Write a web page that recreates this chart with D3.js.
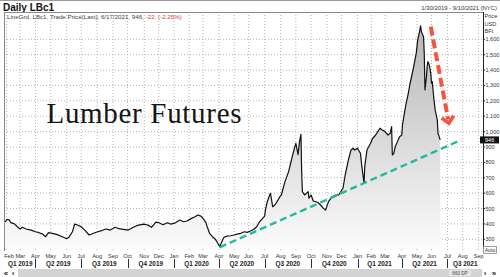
<!DOCTYPE html>
<html>
<head>
<meta charset="utf-8">
<script src="https://cdn.jsdelivr.net/npm/d3@7"></script>
<style>
  body { margin: 0; background: #fff; }
  svg { display: block; font-family: Arial, "Liberation Sans", sans-serif; }
</style>
</head>
<body>
<div id="chart"></div>
<script>
// lumber futures (LBc1) daily close
const priceDates = [
  "2019-01-30","2019-02-04","2019-02-07","2019-02-11","2019-02-19","2019-02-25","2019-03-01","2019-03-06",
  "2019-03-13","2019-03-22","2019-04-01","2019-04-08","2019-04-15","2019-04-22","2019-04-26","2019-05-03",
  "2019-05-13","2019-05-23","2019-06-03","2019-06-06","2019-06-13","2019-06-18","2019-06-24","2019-07-01",
  "2019-07-09","2019-07-17","2019-07-25","2019-08-02","2019-08-09","2019-08-19","2019-08-27","2019-09-06",
  "2019-09-13","2019-09-23","2019-10-02","2019-10-11","2019-10-21","2019-10-31","2019-11-08","2019-11-15",
  "2019-11-25","2019-12-02","2019-12-10","2019-12-18","2019-12-24","2020-01-02","2020-01-06","2020-01-14",
  "2020-01-22","2020-01-29","2020-02-06","2020-02-13","2020-02-20","2020-02-26","2020-03-02","2020-03-06",
  "2020-03-10","2020-03-13","2020-03-19","2020-03-25","2020-03-30","2020-04-02","2020-04-06","2020-04-09",
  "2020-04-13","2020-04-17","2020-04-24","2020-05-01","2020-05-07","2020-05-14","2020-05-21","2020-05-28",
  "2020-06-04","2020-06-10","2020-06-16","2020-06-22","2020-06-25","2020-07-01","2020-07-02","2020-07-07",
  "2020-07-10","2020-07-14","2020-07-17","2020-07-22","2020-07-27","2020-07-31","2020-08-04","2020-08-11",
  "2020-08-18","2020-08-25","2020-08-28","2020-09-01","2020-09-04","2020-09-09","2020-09-11","2020-09-14",
  "2020-09-15","2020-09-18","2020-09-25","2020-09-28","2020-10-01","2020-10-06","2020-10-14","2020-10-20",
  "2020-10-26","2020-10-29","2020-11-04","2020-11-11","2020-11-18","2020-11-24","2020-12-03","2020-12-08",
  "2020-12-15","2020-12-18","2020-12-23","2020-12-28","2021-01-04","2021-01-08","2021-01-12","2021-01-15",
  "2021-01-19","2021-01-22","2021-01-29","2021-02-03","2021-02-09","2021-02-12","2021-02-18","2021-02-23",
  "2021-03-01","2021-03-05","2021-03-10","2021-03-12","2021-03-15","2021-03-17","2021-03-19","2021-03-24",
  "2021-03-29","2021-04-01","2021-04-05","2021-04-08","2021-04-12","2021-04-15","2021-04-19","2021-04-22",
  "2021-04-26","2021-04-30","2021-05-04","2021-05-06","2021-05-10","2021-05-11","2021-05-14","2021-05-17",
  "2021-05-18","2021-05-20","2021-05-21","2021-05-24","2021-05-26","2021-05-28","2021-06-01","2021-06-02",
  "2021-06-04","2021-06-08","2021-06-11","2021-06-14","2021-06-17"
];
const priceValues = [
  414,430,425,408,400,382,367,378,
  367,360,349,343,334,317,343,339,
  332,317,304,313,349,399,393,382,
  360,328,339,349,356,367,360,378,
  369,365,360,378,391,399,393,378,
  412,408,395,408,399,403,408,425,
  414,419,436,447,458,451,436,408,
  378,339,317,300,278,252,274,306,
  313,321,323,328,334,339,349,345,
  356,365,382,414,430,451,490,534,
  577,599,512,523,545,577,588,675,
  740,837,892,924,850,935,982,740,
  610,588,610,567,588,549,541,523,
  501,490,545,577,588,588,632,718,
  827,880,892,880,892,859,772,664,
  772,880,924,957,978,1000,1022,1011,
  1000,978,989,1032,848,859,902,935,
  967,978,1043,1130,1184,1249,1303,1368,
  1412,1510,1596,1639,1687,1650,1617,1510,
  1271,1357,1423,1455,1433,1379,1315,1325,
  1227,1141,1076,989,946
];

// exchange holidays, the x axis runs on trading days (660 DP)
const holidays = [
  "2019-02-18","2019-04-19","2019-05-27","2019-07-04","2019-09-02","2019-11-28","2019-12-25",
  "2020-01-01","2020-01-20","2020-02-17","2020-04-10","2020-05-25","2020-07-03","2020-09-07","2020-11-26","2020-12-25",
  "2021-01-01","2021-01-18","2021-02-15","2021-04-02","2021-05-31","2021-07-05","2021-09-06"
];

const yTicks = [300,400,500,600,700,800,900,1000,1100,1200,1300,1400,1500,1600];
const quarterLabels = ["Q1 2019","Q2 2019","Q3 2019","Q4 2019","Q1 2020","Q2 2020","Q3 2020","Q4 2020","Q1 2021","Q2 2021","Q3 2021"];

// annotations: teal support line and red down arrow
const trendDates = ["2020-04-02", "2021-07-29"];
const trendValues = [248, 946];
const arrowDates = ["2021-05-28", "2021-07-06"];
const arrowValues = [1682, 1054];

let width = 500;
let height = 277;
let plot = {left: 4, right: 483, top: 12, bottom: 249};

let parse = d3.timeParse("%Y-%m-%d");
let fmt = d3.timeFormat("%Y-%m-%d");
let start = parse("2019-01-30");
let end = parse("2021-09-10");
let holSet = new Set(holidays);

let tradingDays = d3.timeDay.range(start, d3.timeDay.offset(end, 1))
  .filter(d => d.getDay() !== 0 && d.getDay() !== 6 && !holSet.has(fmt(d)));

let xIdx = d3.scaleLinear()
  .domain([0, tradingDays.length - 1])
  .range([plot.left + 1, plot.right]);
let x = d => xIdx(Math.min(d3.bisectLeft(tradingDays, d), tradingDays.length - 1));

let y = d3.scaleLinear()
  .domain([237, 1771])
  .range([plot.bottom, plot.top + 1]);

let data = priceDates.map((d, i) => ({date: parse(d), value: priceValues[i]}));

let svg = d3.select("#chart")
  .append("svg")
  .attr("width", width)
  .attr("height", height);

let defs = svg.append("defs");
let grad = defs.append("linearGradient")
  .attr("id", "fillGrad")
  .attr("gradientUnits", "userSpaceOnUse")
  .attr("x1", 0).attr("x2", 0)
  .attr("y1", plot.top).attr("y2", plot.bottom);
grad.append("stop").attr("offset", "0%").attr("stop-color", "#b2b2b2");
grad.append("stop").attr("offset", "100%").attr("stop-color", "#fbfbfb");

// header
svg.append("line")
  .attr("x1", 0).attr("x2", width).attr("y1", 0.5).attr("y2", 0.5)
  .attr("stroke", "#9a9a9a");
svg.append("text")
  .attr("x", 3).attr("y", 10.5)
  .attr("font-size", 10).attr("font-weight", "bold").attr("fill", "#111")
  .text("Daily LBc1");
svg.append("text")
  .attr("x", 497).attr("y", 9.5)
  .attr("text-anchor", "end")
  .attr("font-size", 5.9).attr("fill", "#333")
  .text("1/30/2019 - 9/10/2021 (NYC)");

// gridlines
let months = d3.timeMonth.range(d3.timeMonth.ceil(start), end);
svg.append("g")
  .selectAll("line")
  .data(months)
  .enter()
  .append("line")
  .attr("x1", d => x(d)).attr("x2", d => x(d))
  .attr("y1", plot.top).attr("y2", plot.bottom + 2)
  .attr("stroke", "#b4b4b4")
  .attr("stroke-dasharray", "1,2");

svg.append("g")
  .selectAll("line")
  .data(yTicks)
  .enter()
  .append("line")
  .attr("x1", plot.left).attr("x2", plot.right)
  .attr("y1", d => y(d)).attr("y2", d => y(d))
  .attr("stroke", "#b4b4b4")
  .attr("stroke-dasharray", "1,2");

// price area + line
svg.append("path")
  .datum(data)
  .attr("fill", "url(#fillGrad)")
  .attr("d", d3.area().x(d => x(d.date)).y0(plot.bottom).y1(d => y(d.value)));

svg.append("path")
  .datum(data)
  .attr("fill", "none")
  .attr("stroke", "#111")
  .attr("stroke-width", 1.2)
  .attr("stroke-linejoin", "round")
  .attr("d", d3.line().x(d => x(d.date)).y(d => y(d.value)));

// plot frame
svg.append("line")
  .attr("x1", plot.left).attr("x2", plot.right).attr("y1", plot.top + 0.5).attr("y2", plot.top + 0.5)
  .attr("stroke", "#8a8a8a");
svg.append("line")
  .attr("x1", plot.left + 0.5).attr("x2", plot.left + 0.5).attr("y1", plot.top).attr("y2", plot.bottom + 2)
  .attr("stroke", "#8a8a8a");

// legend line
let legend = svg.append("text")
  .attr("x", 7).attr("y", 18.5)
  .attr("font-size", 6.2).attr("fill", "#444");
legend.append("tspan").text("LineGrd, LBc1, Trade Price(Last), 6/17/2021, 946, ");
legend.append("tspan").attr("fill", "#e03a2e").text("-22, (-2.25%)");

// annotations
let trend = trendDates.map((d, i) => ({date: parse(d), value: trendValues[i]}));
svg.append("path")
  .datum(trend)
  .attr("fill", "none")
  .attr("stroke", "#1fbb9c")
  .attr("stroke-width", 2.4)
  .attr("stroke-dasharray", "7,4")
  .attr("d", d3.line().x(d => x(d.date)).y(d => y(d.value)));

let ax0 = x(parse(arrowDates[0])), ay0 = y(arrowValues[0]);
let ax1 = x(parse(arrowDates[1])), ay1 = y(arrowValues[1]);
let ang = Math.atan2(ay1 - ay0, ax1 - ax0);
let head = 9;
svg.append("line")
  .attr("x1", ax0).attr("y1", ay0)
  .attr("x2", ax1 - Math.cos(ang) * 4).attr("y2", ay1 - Math.sin(ang) * 4)
  .attr("stroke", "#f4553f")
  .attr("stroke-width", 4)
  .attr("stroke-dasharray", "9,4");
svg.append("polyline")
  .attr("points", [
    [ax1 - head * Math.cos(ang - 0.75), ay1 - head * Math.sin(ang - 0.75)],
    [ax1, ay1],
    [ax1 - head * Math.cos(ang + 0.75), ay1 - head * Math.sin(ang + 0.75)]
  ].map(p => p.join(",")).join(" "))
  .attr("fill", "none")
  .attr("stroke", "#f4553f")
  .attr("stroke-width", 3.5)
  .attr("stroke-linejoin", "miter");

svg.append("text")
  .attr("x", 46.5).attr("y", 122.5)
  .attr("font-family", "'Liberation Serif', 'DejaVu Serif', serif")
  .attr("font-size", 29)
  .attr("textLength", 195)
  .attr("fill", "#151515")
  .text("Lumber Futures");

// right axis
svg.append("line")
  .attr("x1", plot.right + 0.5).attr("x2", plot.right + 0.5).attr("y1", plot.top).attr("y2", plot.bottom)
  .attr("stroke", "#222");
let yAxis = svg.append("g");
yAxis.selectAll("line")
  .data(yTicks)
  .enter()
  .append("line")
  .attr("x1", plot.right).attr("x2", plot.right + 2)
  .attr("y1", d => y(d)).attr("y2", d => y(d))
  .attr("stroke", "#222");
yAxis.selectAll("text")
  .data(yTicks)
  .enter()
  .append("text")
  .attr("x", plot.right + 2.5)
  .attr("y", d => y(d) + 2)
  .attr("font-size", 5.5).attr("fill", "#333")
  .text(d => d3.format(",")(d));

["Price", "USD", "BFt"].forEach((t, i) => {
  svg.append("text")
    .attr("x", plot.right + 1.5).attr("y", 18 + i * 7.7)
    .attr("font-size", 5.6).attr("fill", "#333")
    .text(t);
});

// last price tag
let last = data[data.length - 1];
svg.append("rect")
  .attr("x", plot.right - 3).attr("y", y(last.value) - 3.5)
  .attr("width", 19).attr("height", 7)
  .attr("fill", "#111");
svg.append("text")
  .attr("x", plot.right + 2).attr("y", y(last.value) + 2)
  .attr("font-size", 5.6).attr("fill", "#fff")
  .text(last.value);

// auto button
svg.append("rect")
  .attr("x", plot.right + 0.5).attr("y", 246.5).attr("width", 13).attr("height", 7)
  .attr("fill", "#fff").attr("stroke", "#777").attr("stroke-width", 0.7);
svg.append("text")
  .attr("x", plot.right + 7).attr("y", 252)
  .attr("text-anchor", "middle")
  .attr("font-size", 5.2).attr("fill", "#333")
  .text("Auto");

// month labels
let monthFmt = d3.timeFormat("%b");
svg.append("g")
  .selectAll("text")
  .data(months)
  .enter()
  .append("text")
  .attr("x", d => Math.max(x(d), 9))
  .attr("y", 257.5)
  .attr("text-anchor", "middle")
  .attr("font-size", 5.6).attr("fill", "#333")
  .text(d => monthFmt(d));

// quarter labels and separators
let quarters = d3.timeMonth.every(3).range(d3.timeYear.floor(start), end);
let qg = svg.append("g");
quarters.forEach((q, i) => {
  let q1 = d3.timeMonth.offset(q, 3);
  let xa = q < start ? plot.left + 1 : x(q);
  let xb = q1 > end ? plot.right : x(q1);
  if (q >= start) {
    qg.append("line")
      .attr("x1", Math.round(xa) + 0.5).attr("x2", Math.round(xa) + 0.5)
      .attr("y1", 259).attr("y2", 268)
      .attr("stroke", "#333");
  }
  qg.append("text")
    .attr("x", (xa + xb) / 2)
    .attr("y", 266)
    .attr("text-anchor", "middle")
    .attr("font-size", 6.4).attr("font-weight", "bold").attr("fill", "#222")
    .text(quarterLabels[i]);
});

// scroll bar
svg.append("rect")
  .attr("x", 18).attr("y", 269).attr("width", 464).attr("height", 8)
  .attr("fill", "#d3d3d3");
svg.append("rect")
  .attr("x", 449).attr("y", 270).attr("width", 22).attr("height", 6)
  .attr("fill", "#e4e4e4");
svg.append("text")
  .attr("x", 460).attr("y", 275)
  .attr("text-anchor", "middle")
  .attr("font-size", 4.6).attr("fill", "#444")
  .text("660 DP");
[["«", 6], ["‹", 13], ["›", 485], ["»", 494]].forEach(([t, px]) => {
  svg.append("text")
    .attr("x", px).attr("y", 276)
    .attr("text-anchor", "middle")
    .attr("font-size", 8).attr("font-weight", "bold").attr("fill", "#222")
    .text(t);
});
</script>
</body>
</html>
